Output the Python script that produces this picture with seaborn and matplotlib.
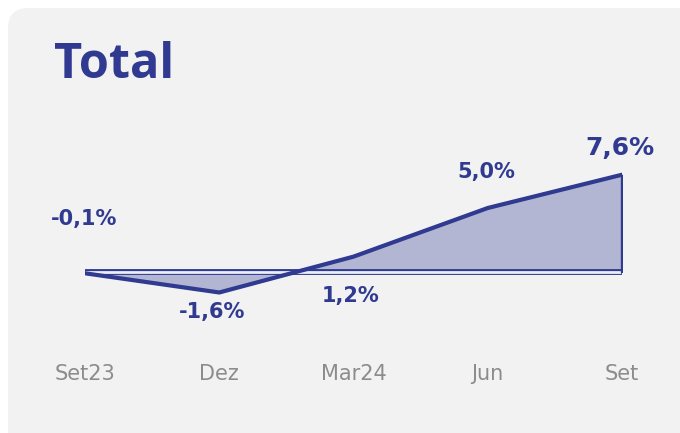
import matplotlib
matplotlib.use("Agg")
import matplotlib.pyplot as plt
from matplotlib.patches import FancyBboxPatch
import seaborn as sns
import pandas as pd

categories = ["Set23", "Dez", "Mar24", "Jun", "Set"]
values = [-0.1, -1.6, 1.2, 5.0, 7.6]
labels = ["-0,1%", "-1,6%", "1,2%", "5,0%", "7,6%"]
title = "Total"

BLUE = "#2f3a90"
FILL = "#b2b6d2"
GRAY = "#8c8c8c"

sns.set_theme(style="white")
plt.rcParams["font.family"] = ["Open Sans", "DejaVu Sans"]

fig = plt.figure(figsize=(6.8, 4.33), dpi=100)
fig.patch.set_facecolor("white")

card = FancyBboxPatch((8 / 680, -30 / 433), 700 / 680, 455 / 433,
                      boxstyle="round,pad=0,rounding_size=0.03",
                      transform=fig.transFigure, facecolor="#f2f2f2",
                      edgecolor="none", zorder=-10, mutation_aspect=680 / 433)
fig.patches.append(card)

ax = fig.add_axes([85 / 680, 1 - 355.2 / 433, (622 - 85) / 680, (355.2 - 156.8) / 433])
ax.set_facecolor("none")
ax.set_zorder(5)

df = pd.DataFrame({"x": range(len(categories)), "v": values})

ax.fill_between(df["x"], df["v"], 0, color=FILL, edgecolor=BLUE, linewidth=0.8, zorder=1)
ax.plot([0, len(categories) - 1], [0, 0], color=BLUE, lw=4.2, solid_capstyle="butt", zorder=2)
ax.plot([0, len(categories) - 1], [0, 0], color="#eceef6", lw=2.0, solid_capstyle="butt", zorder=3)
sns.lineplot(data=df, x="x", y="v", ax=ax, color=BLUE, linewidth=3.0, zorder=4)
ax.plot([len(categories) - 1, len(categories) - 1], [0, values[-1]], color=BLUE, lw=2.4, zorder=4)

offsets = [(-1, 54), (-7, -20), (-3, -39), (-1, 36), (-2, 27)]
sizes = [15, 15, 15, 15, 18]
for i, (v, lab) in enumerate(zip(values, labels)):
    ax.annotate(lab, xy=(i, v), xytext=offsets[i], textcoords="offset pixels",
                ha="center", va="center", color=BLUE, fontsize=sizes[i],
                fontweight="bold", family="DejaVu Sans", zorder=5)

ax.set_xlim(0, len(categories) - 1)
ax.set_ylim(-6.5, 9)
ax.set_xticks(range(len(categories)))
ax.set_xticklabels(categories, color=GRAY, fontsize=15, family="DejaVu Sans")
ax.tick_params(axis="x", length=0, pad=6)
ax.set_yticks([])
ax.set_xlabel("")
ax.set_ylabel("")
for s in ax.spines.values():
    s.set_visible(False)

fig.text(54 / 680, 1 - 66 / 433, title, color=BLUE, fontsize=35, fontweight="bold",
         ha="left", va="center")

fig.savefig("out.png", dpi=100)
